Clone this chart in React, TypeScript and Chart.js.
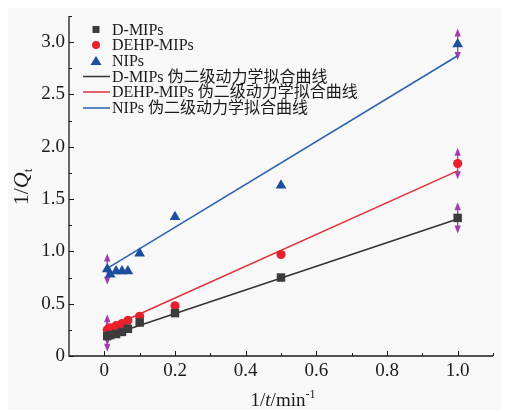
import React, { useEffect, useRef } from 'react';
import { Chart, registerables } from 'chart.js';
Chart.register(...registerables);

// 1/t values (min^-1)
const xValues = [0.0083, 0.0167, 0.0333, 0.05, 0.0667, 0.1, 0.2, 0.5, 1.0];
// 1/Qt values
const dMIPs = [0.19, 0.2, 0.21, 0.23, 0.26, 0.32, 0.41, 0.75, 1.32];
const dehpMIPs = [0.25, 0.27, 0.29, 0.31, 0.34, 0.38, 0.48, 0.97, 1.84];
const nips = [0.83, 0.78, 0.81, 0.81, 0.81, 0.98, 1.33, 1.63, 2.98];
// error bars (half range, 0 = none)
const dErr = [0.15, 0, 0, 0, 0, 0, 0, 0, 0.15];
const dehpErr = [0.15, 0, 0, 0, 0, 0, 0, 0, 0.15];
const nipsErr = [0.15, 0, 0, 0, 0, 0, 0, 0, 0.15];
// pseudo-second-order fits: [intercept, slope]
const dFit = [0.18, 1.13];
const dehpFit = [0.25, 1.52];
const nipsFit = [0.82, 2.05];

const seriesNames = ['D-MIPs', 'DEHP-MIPs', 'NIPs'];
const fitSuffix = ' 伪二级动力学拟合曲线';
const xTickValues = [0, 0.2, 0.4, 0.6, 0.8, 1.0];
const xTickLabels = ['0', '0.2', '0.4', '0.6', '0.8', '1.0'];
const xMinorTicks = [0.1, 0.3, 0.5, 0.7, 0.9, 1.1];
const yTickValues = [0, 0.5, 1.0, 1.5, 2.0, 2.5, 3.0];
const yTickLabels = ['0', '0.5', '1.0', '1.5', '2.0', '2.5', '3.0'];
const yMinorTicks = [0.25, 0.75, 1.25, 1.75, 2.25, 2.75, 3.25];

const colors = ['#3c3c3c', '#e8202c', '#1d4f9f'];
const lineColors = ['#333333', '#e0303c', '#2a62b0'];
const errColor = '#a43cae';
const SERIF = '"Liberation Serif", "Times New Roman", "Noto Sans CJK SC", serif';

function fitLine(fit: number[]) {
  const x0 = xValues[0];
  const x1 = xValues[xValues.length - 1];
  return [
    { x: x0, y: fit[0] + fit[1] * x0 },
    { x: x1, y: fit[0] + fit[1] * x1 },
  ];
}

const pts = (ys: number[]) => xValues.map((x, i) => ({ x, y: ys[i] }));

export default function App() {
  const ref = useRef<HTMLCanvasElement>(null);
  useEffect(() => {
    const canvas = ref.current!;
    const errSets = [dErr, dehpErr, nipsErr];
    const valSets = [dMIPs, dehpMIPs, nips];

    const bgPlugin = {
      id: 'bg',
      beforeDraw(chart: any) {
        const ctx = chart.ctx;
        ctx.save();
        ctx.fillStyle = '#ffffff';
        ctx.fillRect(0, 0, chart.width, chart.height);
        ctx.fillStyle = '#f8f8f8';
        ctx.fillRect(8, 8, 493, 402);
        ctx.restore();
      },
    };

    const errPlugin = {
      id: 'errbars',
      beforeDatasetsDraw(chart: any) {
        const ctx = chart.ctx;
        const xs = chart.scales.x;
        const ys = chart.scales.y;
        ctx.save();
        ctx.strokeStyle = errColor;
        ctx.fillStyle = errColor;
        ctx.lineWidth = 1.3;
        errSets.forEach((errs, s) => {
          errs.forEach((e, i) => {
            if (!e) return;
            const px = xs.getPixelForValue(xValues[i]);
            const top = ys.getPixelForValue(valSets[s][i] + e);
            const bot = ys.getPixelForValue(valSets[s][i] - e);
            ctx.beginPath();
            ctx.moveTo(px, top + 3);
            ctx.lineTo(px, bot - 3);
            ctx.stroke();
            ctx.beginPath();
            ctx.moveTo(px, top);
            ctx.lineTo(px - 3.2, top + 8);
            ctx.lineTo(px + 3.2, top + 8);
            ctx.closePath();
            ctx.fill();
            ctx.beginPath();
            ctx.moveTo(px, bot);
            ctx.lineTo(px - 3.2, bot - 8);
            ctx.lineTo(px + 3.2, bot - 8);
            ctx.closePath();
            ctx.fill();
          });
        });
        ctx.restore();
      },
    };

    const axesPlugin = {
      id: 'axes',
      afterDraw(chart: any) {
        const ctx = chart.ctx;
        const xs = chart.scales.x;
        const ys = chart.scales.y;
        const a = chart.chartArea;
        ctx.save();
        ctx.strokeStyle = '#1a1a1a';
        ctx.lineWidth = 1.3;
        ctx.beginPath();
        ctx.moveTo(a.left, a.top);
        ctx.lineTo(a.left, a.bottom);
        ctx.lineTo(a.right, a.bottom);
        ctx.stroke();
        ctx.lineWidth = 1;
        ctx.beginPath();
        xTickValues.forEach((v) => {
          const p = Math.round(xs.getPixelForValue(v)) + 0.5;
          ctx.moveTo(p, a.bottom);
          ctx.lineTo(p, a.bottom - 5);
        });
        xMinorTicks.forEach((v) => {
          const p = Math.round(xs.getPixelForValue(v)) + 0.5;
          ctx.moveTo(p, a.bottom);
          ctx.lineTo(p, a.bottom - 3);
        });
        yTickValues.forEach((v) => {
          const p = Math.round(ys.getPixelForValue(v)) + 0.5;
          ctx.moveTo(a.left, p);
          ctx.lineTo(a.left + 5, p);
        });
        yMinorTicks.forEach((v) => {
          const p = Math.round(ys.getPixelForValue(v)) + 0.5;
          ctx.moveTo(a.left, p);
          ctx.lineTo(a.left + 3, p);
        });
        ctx.stroke();

        ctx.fillStyle = '#1a1a1a';
        ctx.font = '19px ' + SERIF;
        ctx.textAlign = 'center';
        ctx.textBaseline = 'middle';
        xTickValues.forEach((v, i) => {
          ctx.fillText(xTickLabels[i], xs.getPixelForValue(v), a.bottom + 15);
        });
        ctx.textAlign = 'right';
        yTickValues.forEach((v, i) => {
          ctx.fillText(yTickLabels[i], a.left - 4, ys.getPixelForValue(v));
        });

        // x title: 1/t/min-1
        ctx.textBaseline = 'alphabetic';
        ctx.textAlign = 'left';
        const parts: [string, string][] = [
          ['1/', '19px ' + SERIF],
          ['t', 'italic 19px ' + SERIF],
          ['/min', '19px ' + SERIF],
        ];
        let w = 0;
        parts.forEach(([t, f]) => { ctx.font = f; w += ctx.measureText(t).width; });
        ctx.font = '12px ' + SERIF;
        const supW = ctx.measureText('-1').width;
        let x = 283 - (w + supW) / 2;
        const by = 406;
        parts.forEach(([t, f]) => { ctx.font = f; ctx.fillText(t, x, by); x += ctx.measureText(t).width; });
        ctx.font = '12px ' + SERIF;
        ctx.fillText('-1', x, by - 8);

        // y title: 1/Qt rotated
        ctx.save();
        ctx.translate(28, 187);
        ctx.rotate(-Math.PI / 2);
        const yp: [string, string][] = [
          ['1/', '22px ' + SERIF],
          ['Q', 'italic 22px ' + SERIF],
        ];
        let yw = 0;
        yp.forEach(([t, f]) => { ctx.font = f; yw += ctx.measureText(t).width; });
        ctx.font = '13px ' + SERIF;
        const subW = ctx.measureText('t').width;
        let yx = -(yw + subW) / 2;
        yp.forEach(([t, f]) => { ctx.font = f; ctx.fillText(t, yx, 0); yx += ctx.measureText(t).width; });
        ctx.font = '13px ' + SERIF;
        ctx.fillText('t', yx, 4);
        ctx.restore();

        // legend
        const rowY = [29.5, 45, 61, 76.5, 92, 108];
        const mx = 96;
        const tx = 112;
        ctx.textBaseline = 'middle';
        ctx.textAlign = 'left';
        ctx.font = '16px ' + SERIF;
        for (let i = 0; i < 3; i++) {
          const y = rowY[i];
          ctx.fillStyle = colors[i];
          ctx.beginPath();
          if (i === 0) {
            ctx.rect(mx - 3.5, y - 3.5, 7, 7);
          } else if (i === 1) {
            ctx.arc(mx, y, 4, 0, Math.PI * 2);
          } else {
            ctx.moveTo(mx, y - 5);
            ctx.lineTo(mx - 5.5, y + 4);
            ctx.lineTo(mx + 5.5, y + 4);
            ctx.closePath();
          }
          ctx.fill();
          ctx.fillStyle = '#1a1a1a';
          ctx.fillText(seriesNames[i], tx, y + 1);
        }
        for (let i = 0; i < 3; i++) {
          const y = rowY[i + 3];
          ctx.strokeStyle = lineColors[i];
          ctx.lineWidth = 1.5;
          ctx.beginPath();
          ctx.moveTo(83, y);
          ctx.lineTo(110, y);
          ctx.stroke();
          ctx.fillStyle = '#1a1a1a';
          ctx.fillText(seriesNames[i] + fitSuffix, tx, y + 1);
        }
        ctx.restore();
      },
    };

    const chart = new Chart(canvas, {
      type: 'scatter',
      data: {
        datasets: [
          { label: seriesNames[0], data: pts(dMIPs), pointStyle: 'rect', pointRadius: 6, backgroundColor: colors[0], borderColor: colors[0], borderWidth: 0, showLine: false },
          { label: seriesNames[1], data: pts(dehpMIPs), pointStyle: 'circle', pointRadius: 4.6, backgroundColor: colors[1], borderColor: colors[1], borderWidth: 0, showLine: false },
          { label: seriesNames[2], data: pts(nips), pointStyle: 'triangle', pointRadius: 6.2, backgroundColor: colors[2], borderColor: colors[2], borderWidth: 0, showLine: false },
          { label: seriesNames[0] + fitSuffix, data: fitLine(dFit), showLine: true, pointRadius: 0, borderColor: lineColors[0], borderWidth: 1.5, fill: false },
          { label: seriesNames[1] + fitSuffix, data: fitLine(dehpFit), showLine: true, pointRadius: 0, borderColor: lineColors[1], borderWidth: 1.5, fill: false },
          { label: seriesNames[2] + fitSuffix, data: fitLine(nipsFit), showLine: true, pointRadius: 0, borderColor: lineColors[2], borderWidth: 1.5, fill: false },
        ],
      },
      options: {
        responsive: true,
        maintainAspectRatio: false,
        animation: false,
        layout: { padding: { left: 69, top: 16, right: 13, bottom: 56 } },
        scales: {
          x: { type: 'linear', min: -0.1, max: 1.1, display: false },
          y: { type: 'linear', min: 0, max: 3.25, display: false },
        },
        plugins: { legend: { display: false }, tooltip: { enabled: false } },
      },
      plugins: [bgPlugin, errPlugin, axesPlugin],
    });
    return () => chart.destroy();
  }, []);

  return (
    <div style={{ position: 'fixed', left: 0, top: 0, width: 506, height: 412 }}>
      <canvas ref={ref} />
    </div>
  );
}
